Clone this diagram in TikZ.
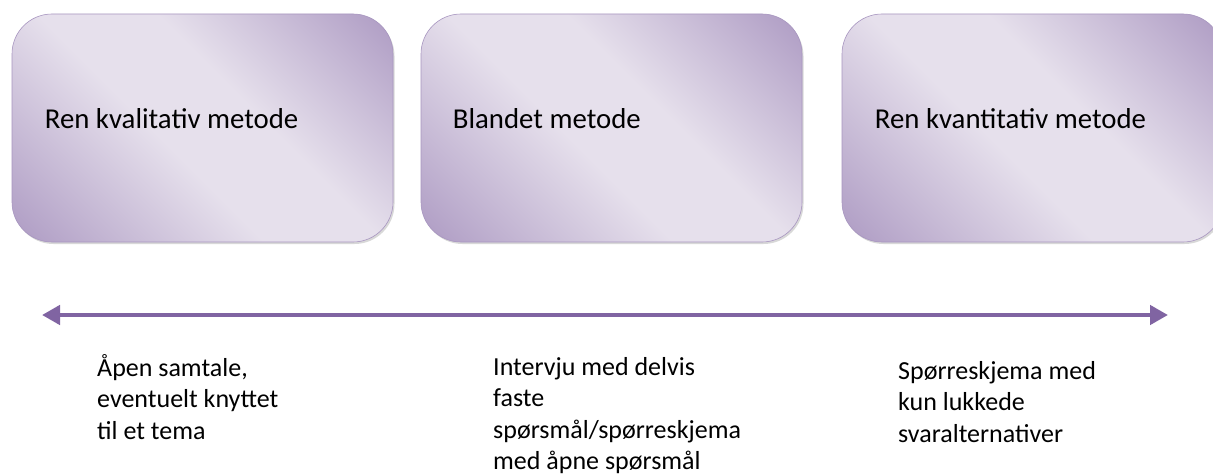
\documentclass[tikz,border=0pt]{standalone}
\usepackage{fontspec}
\setmainfont{Carlito}
\usetikzlibrary{arrows.meta,shadows}
\definecolor{boxdark}{HTML}{B09EC5}
\definecolor{boxlight}{HTML}{E6E0EC}
\definecolor{boxedge}{HTML}{A896C0}
\definecolor{arrowpurple}{HTML}{8064A2}
\pgfdeclareverticalshading{boxshade}{100bp}{color(0bp)=(boxdark); color(16bp)=(boxdark); color(44bp)=(boxlight); color(58bp)=(boxlight); color(84bp)=(boxdark); color(100bp)=(boxdark)}
\begin{document}
\begin{tikzpicture}[x=1pt,y=1pt,
  methodbox/.style={rounded corners=40pt, minimum width=381pt, minimum height=228pt,
    inner sep=0pt, shading=boxshade, shading angle=-45, draw=boxedge, line width=0.6pt,
    drop shadow={shadow xshift=1.5pt, shadow yshift=-2pt, opacity=0.3}},
  boxtitle/.style={font=\fontsize{28.8}{34}\selectfont, anchor=base west, inner sep=0pt, text=black},
  note/.style={font=\fontsize{26}{31.5}\selectfont, align=left, anchor=base west, inner sep=0pt, text=black},
  spectrum/.style={draw=arrowpurple, line width=4.5pt,
    {Triangle[length=18pt,width=19pt]}-{Triangle[length=18pt,width=19pt]}}]
\fill[white] (0,0) rectangle (1213,475);
\useasboundingbox (0,0) rectangle (1213,475);
\node[methodbox] (b1) at (202.5,347) {};
\node[methodbox] (b2) at (611.5,347) {};
\node[methodbox] (b3) at (1032.5,347) {};
\node[boxtitle] (t1) at ([xshift=33pt]b1.west) {Ren kvalitativ metode};
\node[boxtitle] (t2) at ([xshift=32pt]b2.west) {Blandet metode};
\node[boxtitle] (t3) at ([xshift=33pt]b3.west) {Ren kvantitativ metode};
\coordinate (L) at (42,160);
\coordinate (R) at (1168,160);
\draw[spectrum] (L) -- (R);
% base anchor of a multi-line node is the baseline of its last line
\node[note] (n1) at (97,36) {Åpen samtale,\\eventuelt knyttet\\til et tema};
\node[note] (n2) at (493,5.5) {Intervju med delvis\\faste\\spørsmål/spørreskjema\\med åpne spørsmål};
\node[note] (n3) at (898,33) {Spørreskjema med\\kun lukkede\\svaralternativer};
\end{tikzpicture}
\end{document}
